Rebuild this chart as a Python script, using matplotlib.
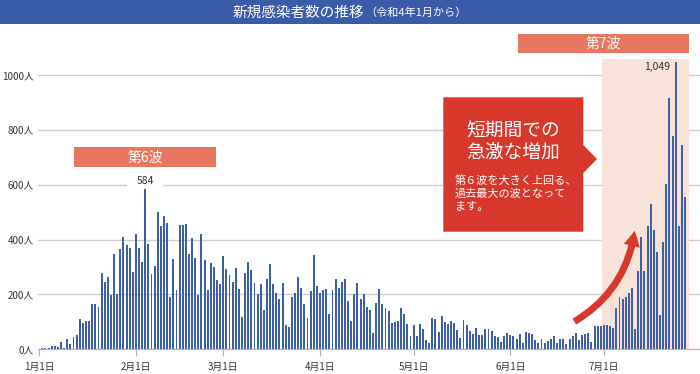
import matplotlib
matplotlib.use("Agg")
import matplotlib.pyplot as plt
from matplotlib.patches import Rectangle, Polygon, FancyArrowPatch, ArrowStyle

plt.rcParams['font.family'] = ['Noto Sans CJK JP', 'DejaVu Sans']

# ---- data: daily new cases from 2022-01-01 ----
cases = [
    2, 4, 4, 3, 11, 13, 8, 25, 5, 39, 21, 45, 52, 111, 96, 105, 102, 166, 164, 153,
    280, 247, 263, 199, 347, 200, 367, 410, 382, 370, 281, 421, 368, 320, 584, 385,
    273, 303, 502, 448, 487, 460, 190, 331, 217, 454, 454, 456, 349, 406, 332, 198,
    421, 324, 216, 316, 300, 251, 238, 341, 292, 270, 245, 296, 221, 118, 280, 318,
    288,
    242, 202, 238, 143, 258, 310, 238, 204, 182, 240, 88, 82, 189, 204, 265, 225,
    164, 114, 213, 342, 229, 205, 216, 221, 127, 217, 256, 222, 247, 256, 175, 105,
    200, 242, 182, 200,
    154, 143, 61, 167, 219, 164, 150, 139, 95, 98, 105, 150, 127, 91, 48, 88, 50, 91,
    73, 34, 22, 115, 111, 63, 120, 101, 92, 104, 97, 72, 42, 107, 87,
    68, 57, 76, 52, 52, 75, 75, 67, 47, 45, 25, 50, 58,
    52, 47, 38, 55, 24, 62, 61, 55, 33, 24, 36, 24, 32, 36, 48, 23, 36, 39, 18, 36,
    47, 58, 33, 52, 56, 59, 28,
    86, 85, 85,
    88, 87, 86, 77, 149, 189, 184, 189, 207, 224, 73, 286, 408, 286, 448, 530, 435,
    355, 125, 392, 601, 916, 776, 1049, 449, 745, 555,
]
month_starts = [0, 31, 59, 90, 120, 151, 181]
month_labels = ['1月1日', '2月1日', '3月1日', '4月1日', '5月1日', '6月1日', '7月1日']
y_ticks = [0, 200, 400, 600, 800, 1000]
y_labels = ['0人', '200人', '400人', '600人', '800人', '1000人']
peak6_day, peak6_label = 34, '584'
peak7_day, peak7_label = 204, '1,049'
wave7_start, wave7_end = 180.35, 208.4

W, H = 700, 374
fig = plt.figure(figsize=(W / 100, H / 100), dpi=100)

def fx(x):
    return x / W

def fy(y):
    return 1 - y / H

ax_left, ax_right, ax_bottom, ax_top = 37.95, 700, 349.3, 47.6
ax = fig.add_axes([fx(ax_left), fy(ax_bottom), (ax_right - ax_left) / W, (ax_bottom - ax_top) / H])
ax.set_xlim(-0.4, 211.8)
ax.set_ylim(0, 1100)

days = list(range(len(cases)))
ax.bar(days, cases, width=0.62, color='#3d5ea8', zorder=3)

ax.set_axisbelow(True)
ax.grid(axis='y', color='#cdcdcd', linewidth=1.0, zorder=0)
ax.grid(axis='x', visible=False)
ax.axvspan(wave7_start, wave7_end, ymin=0, ymax=1057 / 1100, color='#f9e2d7', zorder=1, lw=0)

for s in ['top', 'right', 'left']:
    ax.spines[s].set_visible(False)
ax.spines['bottom'].set_color('#b5b5b5')
ax.spines['bottom'].set_zorder(4)

ax.set_yticks(y_ticks)
ax.set_yticklabels(y_labels, fontsize=7, color='#333333')
ax.tick_params(axis='y', length=0, pad=3)
ax.set_xticks(month_starts)
ax.set_xticklabels(month_labels, fontsize=7, color='#333333')
ax.tick_params(axis='x', length=5, color='#b5b5b5', pad=4)

# label for the 6th wave peak (white box interrupts gridline)
ax.add_patch(Rectangle((peak6_day - 5.7, 588), 11.4, 30, color='white', zorder=2, lw=0))
ax.annotate(peak6_label, (peak6_day, cases[peak6_day]), xytext=(0, 2.5), textcoords='offset points',
            ha='center', va='bottom', fontsize=7.5, color='#333333', zorder=5)
ax.annotate(peak7_label, (peak7_day, cases[peak7_day]), xytext=(-4, -4), textcoords='offset points',
            ha='right', va='center', fontsize=7.5, color='#333333', zorder=5)

# title bar
fig.add_artist(Rectangle((0, fy(24)), 1, 24 / H, transform=fig.transFigure, color='#3a5ca8', lw=0))
fig.text(fx(364), fy(12.5), '新規感染者数の推移', ha='right', va='center', color='white', fontsize=10.5)
fig.text(fx(365), fy(13), '（令和4年1月から）', ha='left', va='center', color='white', fontsize=8)

# wave badges
badge_color = '#e8775f'
fig.add_artist(Rectangle((fx(518), fy(53.3)), (689 - 518) / W, 19.3 / H, transform=fig.transFigure,
                         color=badge_color, lw=0))
fig.text(fx(603.5), fy(43.5), '第7波', ha='center', va='center', color='white', fontsize=10)
fig.add_artist(Rectangle((fx(74), fy(167.3)), (216 - 74) / W, 20 / H, transform=fig.transFigure,
                         color=badge_color, lw=0))
fig.text(fx(145), fy(157.3), '第6波', ha='center', va='center', color='white', fontsize=10)

# callout
red = '#d8382c'
pts = [(443.3, 97.3), (583.3, 97.3), (583.3, 145), (597, 159), (583.3, 173), (583.3, 231.7), (443.3, 231.7)]
fig.add_artist(Polygon([(fx(x), fy(y)) for x, y in pts], closed=True, transform=fig.transFigure,
                       color=red, lw=0))
fig.text(fx(513), fy(131), '短期間での', ha='center', va='center', color='white', fontsize=13.5)
fig.text(fx(513), fy(153), '急激な増加', ha='center', va='center', color='white', fontsize=13.5)
for i, line in enumerate(['第６波を大きく上回る、', '過去最大の波となって', 'ます。']):
    fig.text(fx(455), fy(180.7 + 13 * i), line, ha='left', va='center', color='white', fontsize=8)

# curved arrow
arrow = FancyArrowPatch((fx(572), fy(323)), (fx(635), fy(228)), transform=fig.transFigure,
                        connectionstyle='arc3,rad=0.25',
                        arrowstyle=ArrowStyle.Simple(head_length=1.1, head_width=1.2, tail_width=0.5),
                        mutation_scale=10, color=red, lw=0)
fig.add_artist(arrow)

fig.savefig('out.png', dpi=100)
